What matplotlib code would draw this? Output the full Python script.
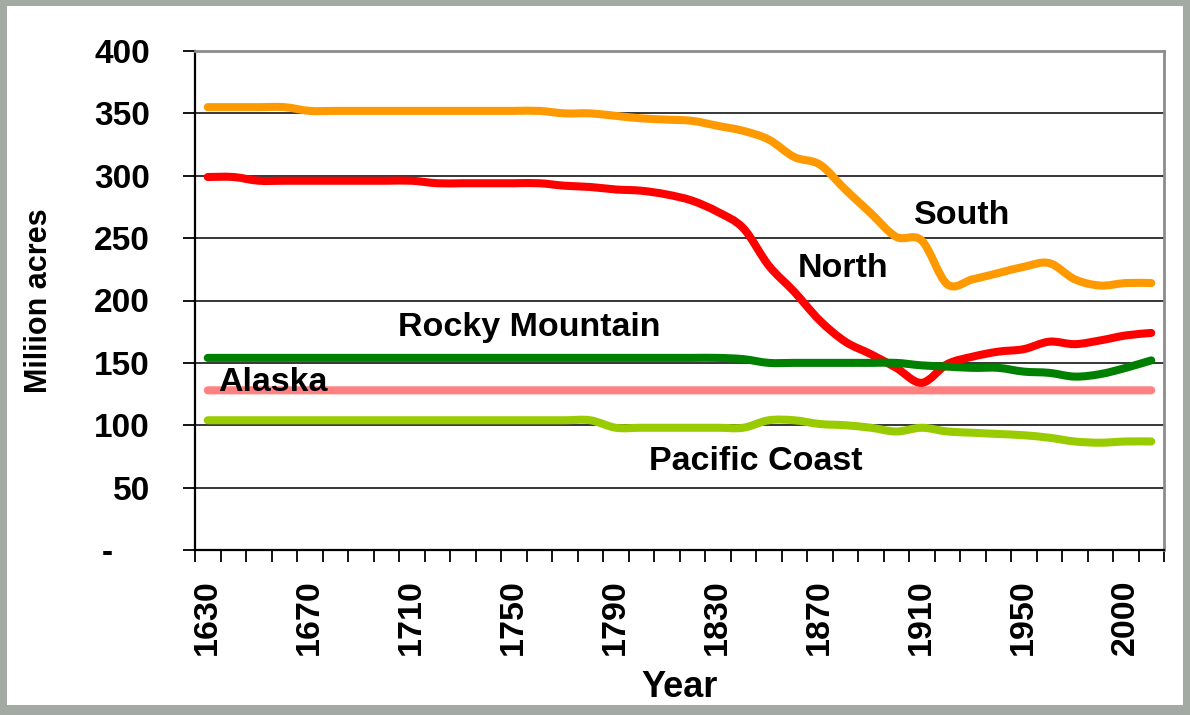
import numpy as np
import matplotlib.pyplot as plt
from matplotlib.patches import Rectangle, PathPatch
from matplotlib.path import Path
from matplotlib.transforms import ScaledTranslation

# Categories (Excel-style category axis, evenly spaced)
years = list(range(1630, 1960, 10)) + [1963, 1977, 1987, 2000, 2010]
tick_every = 4

# Forest area, million acres
south = [355, 355, 355, 355, 352, 352, 352, 352, 352, 352, 352, 352, 352, 352,
         350, 350, 348, 346, 345, 344, 340, 336, 329, 315, 309, 289, 270, 251,
         248, 213, 217, 222, 227, 230, 217, 212, 214, 214]
north = [299, 299, 296, 296, 296, 296, 296, 296, 296, 294, 294, 294, 294, 294,
         292, 291, 289, 288, 285, 280, 271, 258, 228, 207, 184, 167, 157, 146,
         134, 149, 155, 159, 161, 167, 165, 168, 172, 174]
rocky = [154] * 21 + [153, 150, 150, 150, 150, 150, 150,
                      148, 147, 146, 146, 143, 142, 139, 141, 146, 152]
alaska = [128] * 38
pacific = [104] * 16 + [98, 98, 98, 98, 98, 98, 104, 104, 101, 100, 98, 95,
                        98, 95, 94, 93, 92, 90, 87, 86, 87, 87]

series = [
    ('Alaska', alaska, '#FF8080'),
    ('Pacific Coast', pacific, '#99CC00'),
    ('North', north, '#FF0000'),
    ('South', south, '#FF9900'),
    ('Rocky Mountain', rocky, '#008000'),
]

# label positions in (category index, value)
labels = {
    'South': (29.6, 268),
    'North': (24.9, 226),
    'Rocky Mountain': (12.6, 178),
    'Alaska': (2.55, 134),
    'Pacific Coast': (21.5, 71),
}


def smooth_path(xs, ys):
    # Excel-like "smoothed line": cubic Bezier through every data point
    p = np.column_stack([xs, ys]).astype(float)
    ext = np.vstack([p[0], p, p[-1]])
    verts = [p[0]]
    codes = [Path.MOVETO]
    for i in range(len(p) - 1):
        c1 = p[i] + (ext[i + 2] - ext[i]) / 6
        c2 = p[i + 1] - (ext[i + 3] - ext[i + 1]) / 6
        verts += [c1, c2, p[i + 1]]
        codes += [Path.CURVE4] * 3
    return Path(verts, codes)


plt.rcParams['font.family'] = ['Liberation Sans', 'DejaVu Sans']
plt.rcParams['font.weight'] = 'bold'

W, H = 1190, 715
fig = plt.figure(figsize=(W / 100, H / 100), dpi=100, facecolor='#A3A9A3')
fig.patches.append(Rectangle((7 / W, 1 - 705 / H), 1176 / W, 699 / H,
                             transform=fig.transFigure, facecolor='white',
                             edgecolor='none', zorder=-10))

ax = fig.add_axes([195 / W, 1 - 550 / H, 969 / W, 499 / H])
ax.set_facecolor('white')

x = np.arange(len(years))
for name, vals, col in series:
    ax.add_patch(PathPatch(smooth_path(x, vals), fill=False, edgecolor=col,
                           lw=5.8, capstyle='round', joinstyle='round',
                           zorder=3))

for name, (lx, ly) in labels.items():
    ax.text(lx, ly, name, ha='center', va='center', fontsize=24.5,
            fontweight='bold', color='black', zorder=5)

# axes
ax.set_xlim(-0.5, len(years) - 0.5)
ax.set_ylim(0, 400)
ax.set_yticks(np.arange(0, 401, 50))
ylabs = ['-'] + [str(v) for v in range(50, 401, 50)]
ax.set_yticklabels(ylabs, fontsize=24, fontweight='bold')
ax.yaxis.grid(True, color='black', lw=1.1)
ax.set_axisbelow(True)

ax.set_xticks(x[::tick_every])
ax.set_xticklabels([str(y) for y in years[::tick_every]], rotation=90,
                   fontsize=24.5, fontweight='bold',
                   family=['Liberation Sans Narrow', 'Liberation Sans'])
ax.set_xticks(np.arange(-0.5, len(years), 1), minor=True)
ax.tick_params(axis='x', which='major', length=0, pad=21)
ax.tick_params(axis='x', which='minor', length=8.4, width=1.3, direction='out')
ax.tick_params(axis='y', length=8.4, width=1.3, direction='out', pad=24)

for s in ['left', 'bottom']:
    ax.spines[s].set_color('black')
    ax.spines[s].set_linewidth(1.6)
for s in ['top', 'right']:
    ax.spines[s].set_color('#8C8C8C')
    ax.spines[s].set_linewidth(2.0)

# push the "-" zero label left, like the accounting format
zero_lbl = ax.get_yticklabels()[0]
zero_lbl.set_transform(zero_lbl.get_transform() +
                       ScaledTranslation(-37 / 100, 0, fig.dpi_scale_trans))

ax.set_ylabel('Miliion acres', fontsize=22, fontweight='bold')
ax.yaxis.set_label_coords(-0.145, 0.5)
ax.set_xlabel('Year', fontsize=26, fontweight='bold')
ax.xaxis.set_label_coords(0.5, -0.24)

fig.savefig('out.png', dpi=100, facecolor=fig.get_facecolor())
